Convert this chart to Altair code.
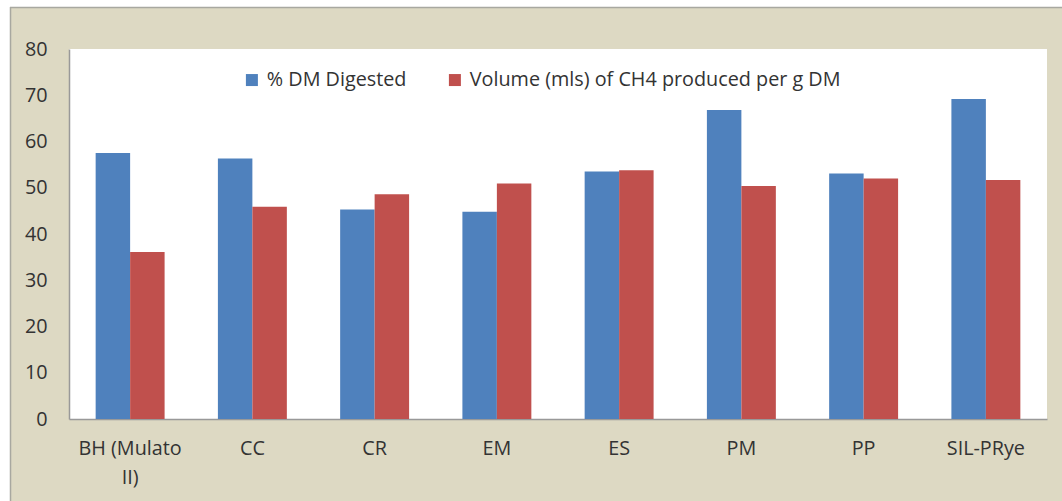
import altair as alt
import pandas as pd

categories = ["BH (Mulato II)", "CC", "CR", "EM", "ES", "PM", "PP", "SIL-PRye"]
series_names = ["% DM Digested", "Volume (mls) of CH4 produced per g DM"]
dm_digested = [57.5, 56.3, 45.3, 44.8, 53.5, 66.8, 53.1, 69.2]
ch4_volume = [36.1, 45.9, 48.6, 50.9, 53.8, 50.4, 52.0, 51.7]
colors = ["#4F81BD", "#C0504D"]

rows = []
for c, a, b in zip(categories, dm_digested, ch4_volume):
    rows.append({"cat": c, "series": series_names[0], "value": a})
    rows.append({"cat": c, "series": series_names[1], "value": b})
df = pd.DataFrame(rows)

FONT = "Open Sans"
FS = 19.8

bars = alt.Chart(df).mark_bar().encode(
    x=alt.X("cat:N", sort=categories, title=None,
            scale=alt.Scale(paddingInner=0.436, paddingOuter=0.218),
            axis=alt.Axis(labelAngle=0, ticks=False, labelPadding=19,
                          labelFontSize=FS, labelColor="#333333", labelFont=FONT,
                          labelLineHeight=29, domainColor="#999999", domainWidth=1.5,
                          labelExpr="datum.label == 'BH (Mulato II)' ? ['BH (Mulato', 'II)'] : datum.label")),
    xOffset=alt.XOffset("series:N", sort=series_names),
    y=alt.Y("value:Q", title=None,
            scale=alt.Scale(domain=[0, 80]),
            axis=alt.Axis(values=list(range(0, 81, 10)), grid=False, ticks=False,
                          labelPadding=22, labelFontSize=FS, labelColor="#333333",
                          labelFont=FONT, domainColor="#999999", domainWidth=1.5)),
    color=alt.Color("series:N", sort=series_names,
                    scale=alt.Scale(domain=series_names, range=colors),
                    legend=alt.Legend(title=None, orient="none", legendX=173, legendY=21,
                                      direction="horizontal", symbolType="square",
                                      symbolSize=144, symbolStrokeWidth=0,
                                      labelFontSize=FS, labelFont=FONT, labelColor="#333333",
                                      labelLimit=0, columnPadding=38, labelOffset=5)),
)

one = pd.DataFrame({"k": [0]})
top_white = alt.Chart(one).mark_rect(color="white").encode(
    x=alt.value(-69), x2=alt.value(1000), y=alt.value(-49), y2=alt.value(-42))
left_white = alt.Chart(one).mark_rect(color="white").encode(
    x=alt.value(-69), x2=alt.value(-59), y=alt.value(-49), y2=alt.value(460))
top_border = alt.Chart(one).mark_rule(color="#A8A8A0", strokeWidth=1.5).encode(
    x=alt.value(-59), x2=alt.value(1000), y=alt.value(-41.5))
left_border = alt.Chart(one).mark_rule(color="#A8A8A0", strokeWidth=1.5).encode(
    x=alt.value(-58.5), y=alt.value(-42), y2=alt.value(460))

chart = alt.layer(top_white, left_white, top_border, left_border, bars).properties(
    width=978, height=370,
    autosize=alt.AutoSizeParams(type="none"),
    padding={"left": 69, "top": 49, "right": 15, "bottom": 82},
    background="#DDD9C3",
).configure_view(fill="white", stroke=None)

chart.save("out.html", embed_options={"renderer": "svg", "actions": False})
